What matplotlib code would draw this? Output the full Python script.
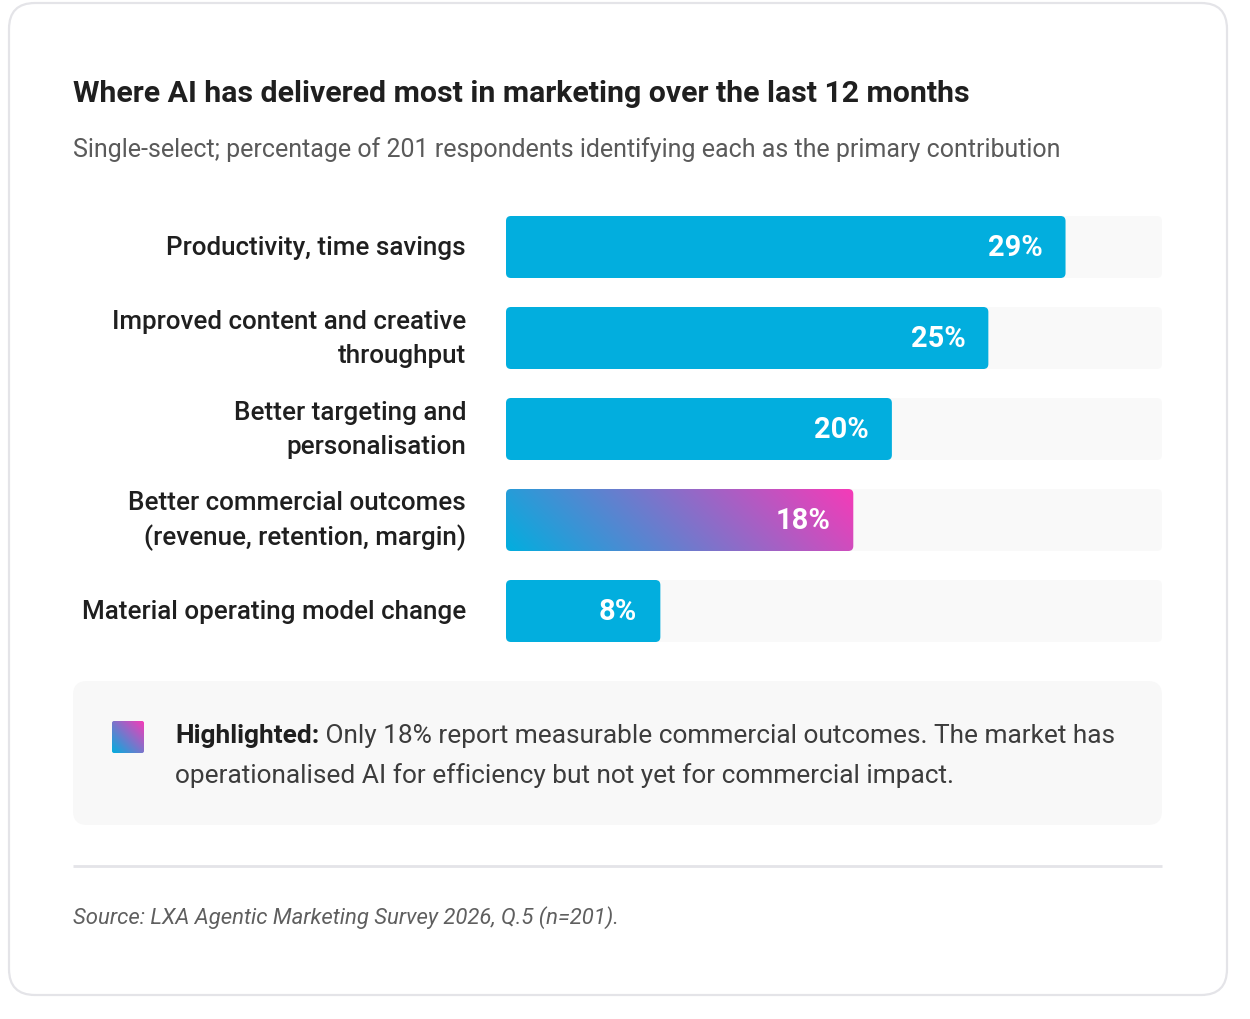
import numpy as np
import matplotlib
matplotlib.use("Agg")
import matplotlib.pyplot as plt
from matplotlib.patches import FancyBboxPatch
from matplotlib.colors import to_rgb

# ---------------- data ----------------
categories = [
    "Productivity, time savings",
    "Improved content and creative\nthroughput",
    "Better targeting and\npersonalisation",
    "Better commercial outcomes\n(revenue, retention, margin)",
    "Material operating model change",
]
values = [29, 25, 20, 18, 8]
highlight = [False, False, False, True, False]
axis_max = 34

title = "Where AI has delivered most in marketing over the last 12 months"
subtitle = "Single-select; percentage of 201 respondents identifying each as the primary contribution"
callout_bold = "Highlighted:"
callout_line1 = "Only 18% report measurable commercial outcomes. The market has"
callout_line2 = "operationalised AI for efficiency but not yet for commercial impact."
source = "Source: LXA Agentic Marketing Survey 2026, Q.5 (n=201)."

# ---------------- style ----------------
FONT = ["Roboto", "DejaVu Sans"]
plt.rcParams["font.family"] = FONT
W, H = 1250, 1020
DPI = 100
PT = 72 / DPI  # px -> pt

CYAN = "#02aede"
PINK = "#f53bb8"
TRACK = "#f9f9f9"
DARK = "#1f1f1f"

fig = plt.figure(figsize=(W / DPI, H / DPI), dpi=DPI)
fig.patch.set_facecolor("white")

# background axes in pixel coordinates
bg = fig.add_axes([0, 0, 1, 1])
bg.set_xlim(0, W)
bg.set_ylim(H, 0)
bg.axis("off")

# card
card = FancyBboxPatch((9, 4), 1218, 992, boxstyle="round,pad=0,rounding_size=26",
                      facecolor="white", edgecolor="#e4e4e8", linewidth=1.6)
bg.add_patch(card)

bg.text(73, 94.5, title, fontsize=30.2 * PT, fontweight="bold", color=DARK,
        ha="left", va="center")
bg.text(73, 150, subtitle, fontsize=25 * PT, color="#5a5a5a",
        ha="left", va="center")

# callout box
cb = FancyBboxPatch((73, 682), 1089, 144, boxstyle="round,pad=0,rounding_size=14",
                    facecolor="#f8f8f8", edgecolor="none")
bg.add_patch(cb)


def gradient_image(wpx, hpx, n=200):
    m = max(2, int(n * hpx / wpx))
    xs = np.linspace(0, 1, n)
    ys = np.linspace(0, 1, m)  # 0 = top, 1 = bottom
    X, Y = np.meshgrid(xs, ys)
    t = (X * wpx + (1 - Y) * hpx) / (wpx + hpx)
    c0 = np.array(to_rgb(CYAN))
    c1 = np.array(to_rgb(PINK))
    return c0[None, None, :] * (1 - t[..., None]) + c1[None, None, :] * t[..., None]


# swatch
sw = FancyBboxPatch((112, 722), 32, 32, boxstyle="round,pad=0,rounding_size=2",
                    facecolor="none", edgecolor="none")
bg.add_patch(sw)
im = bg.imshow(gradient_image(32, 32, 64), extent=(112, 144, 754, 722),
               aspect="auto", zorder=3, interpolation="bilinear")
im.set_clip_path(sw)
bg.set_xlim(0, W)
bg.set_ylim(H, 0)

CFS = 26.3 * PT
t1 = bg.text(175, 736, callout_bold, fontsize=CFS, fontweight="bold",
             color=DARK, ha="left", va="center")
bg.annotate(" " + callout_line1, xy=(1, 0), xycoords=t1, fontsize=CFS,
            color="#3c3c3c", ha="left", va="bottom")
bg.text(175, 776, callout_line2, fontsize=CFS, color="#3c3c3c",
        ha="left", va="center")

# divider
bg.plot([73, 1162], [867, 867], color="#e4e4e8", linewidth=2, solid_capstyle="butt")

bg.text(73, 918, source, fontsize=22.2 * PT, style="italic", color="#5f5f5f",
        ha="left", va="center")

# ---------------- bar axes ----------------
ax_left, ax_right = 506, 1162
row_top, row_bot = 202.5, 657.5
ax = fig.add_axes([ax_left / W, 1 - row_bot / H, (ax_right - ax_left) / W,
                   (row_bot - row_top) / H])
ax.set_xlim(0, axis_max)
ax.set_ylim(len(values) - 0.5, -0.5)
ax.axis("off")

px_x = (ax_right - ax_left) / axis_max          # px per x unit
px_y = (row_bot - row_top) / len(values)         # px per y unit
bar_h = 62 / px_y
r_px = 5
aspect = (1 / px_y) / (1 / px_x)

for i, (cat, v, hl) in enumerate(zip(categories, values, highlight)):
    y0 = i - bar_h / 2
    track = FancyBboxPatch((0, y0), axis_max, bar_h,
                           boxstyle=f"round,pad=0,rounding_size={r_px / px_x}",
                           mutation_aspect=aspect, facecolor=TRACK,
                           edgecolor="none", zorder=1)
    ax.add_patch(track)
    bar = FancyBboxPatch((0, y0), v, bar_h,
                         boxstyle=f"round,pad=0,rounding_size={r_px / px_x}",
                         mutation_aspect=aspect,
                         facecolor="none" if hl else CYAN,
                         edgecolor="none", zorder=2)
    ax.add_patch(bar)
    if hl:
        g = ax.imshow(gradient_image(v * px_x, 62), extent=(0, v, y0 + bar_h, y0),
                      aspect="auto", zorder=2, interpolation="bilinear")
        g.set_clip_path(bar)
    ax.annotate(f"{v}%", xy=(v, i), xytext=(-23 * PT, 0), textcoords="offset points",
                ha="right", va="center", fontsize=29 * PT, fontweight="bold",
                color="white", zorder=4)
    ax.annotate(cat, xy=(0, i), xytext=(-40 * PT, 0), textcoords="offset points",
                ha="right", va="center", multialignment="right",
                fontsize=26 * PT, fontweight="medium", color=DARK,
                linespacing=1.5, annotation_clip=False)

ax.set_xlim(0, axis_max)
ax.set_ylim(len(values) - 0.5, -0.5)

fig.savefig("out.png", dpi=DPI, facecolor="white")
